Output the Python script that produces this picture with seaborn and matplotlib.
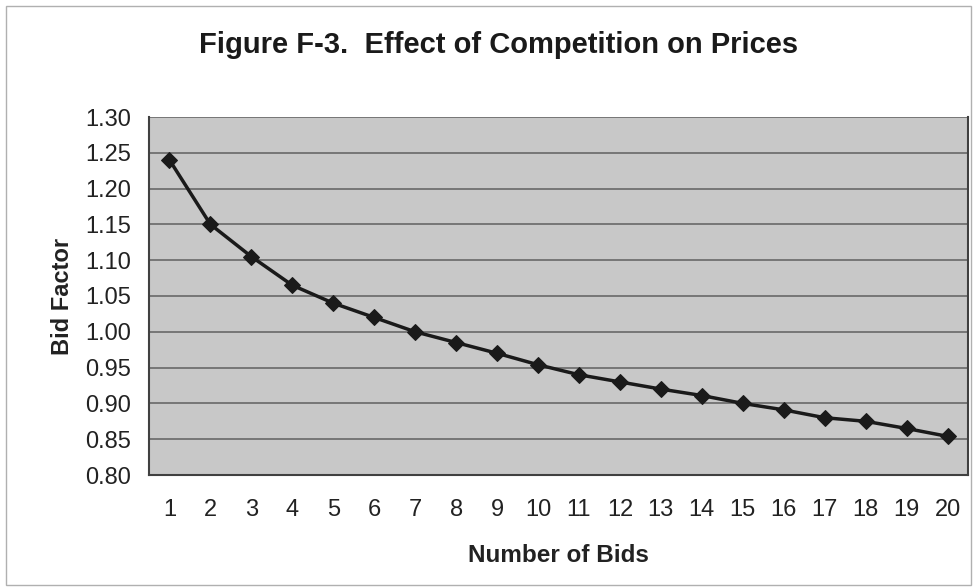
import matplotlib
matplotlib.use("Agg")
import matplotlib.pyplot as plt
import seaborn as sns
import pandas as pd
import numpy as np
from matplotlib.patches import Rectangle

num_bids = list(range(1, 21))
bid_factor = [1.24, 1.15, 1.105, 1.065, 1.04, 1.02, 1.00, 0.985, 0.97, 0.954,
              0.94, 0.93, 0.92, 0.911, 0.90, 0.891, 0.88, 0.875, 0.865, 0.854]
y_ticks = [0.80, 0.85, 0.90, 0.95, 1.00, 1.05, 1.10, 1.15, 1.20, 1.25, 1.30]

df = pd.DataFrame({"Number of Bids": num_bids, "Bid Factor": bid_factor})

sns.set_style("white")
plt.rcParams['font.family'] = ['Liberation Sans', 'DejaVu Sans']

fig = plt.figure(figsize=(9.75, 5.88), dpi=100)
ax = fig.add_axes([149/975, 1 - 475/588, (968-149)/975, (475-117)/588])
ax.set_facecolor("#c8c8c8")

for yv in y_ticks:
    ax.axhline(yv, color="#707070", lw=1.3, zorder=1)

sns.lineplot(data=df, x="Number of Bids", y="Bid Factor", ax=ax, color="#1a1a1a",
             lw=2.5, marker="D", markersize=8.5, markeredgecolor="#1a1a1a", zorder=3)

ax.set_xlim(0.5, 20.5)
ax.set_ylim(0.80, 1.30)
ax.set_yticks(y_ticks)
ax.set_yticklabels([f"{v:.2f}" for v in y_ticks], fontsize=17, color="#222222")
ax.set_xticks(num_bids)
ax.set_xticklabels([str(n) for n in num_bids], fontsize=17, color="#222222")
ax.set_xticks(np.arange(0.5, 21, 1), minor=True)
ax.tick_params(axis="x", which="major", length=0, pad=17)
ax.tick_params(axis="x", which="minor", length=5, color="#404040", width=1)
ax.tick_params(axis="y", which="major", length=8, color="#404040", width=1, pad=5)

for side in ["left", "bottom", "right"]:
    ax.spines[side].set_color("#404040")
    ax.spines[side].set_linewidth(1.5)
ax.spines["top"].set_visible(False)

ax.set_xlabel("Number of Bids", fontsize=17.5, fontweight="bold", labelpad=17, color="#222222")
ax.set_ylabel("Bid Factor", fontsize=17, fontweight="bold", labelpad=8, color="#222222")

fig.text(0.511, 1 - 45/588, "Figure F-3.  Effect of Competition on Prices",
         ha="center", va="center", fontsize=21, fontweight="bold", color="#1a1a1a")

fig.patches.append(Rectangle((6/975, 0.005), 0.99, 0.99 - 3/588, transform=fig.transFigure,
                             fill=False, edgecolor="#b0b0b0", lw=1))

fig.savefig("out.png", dpi=100)
